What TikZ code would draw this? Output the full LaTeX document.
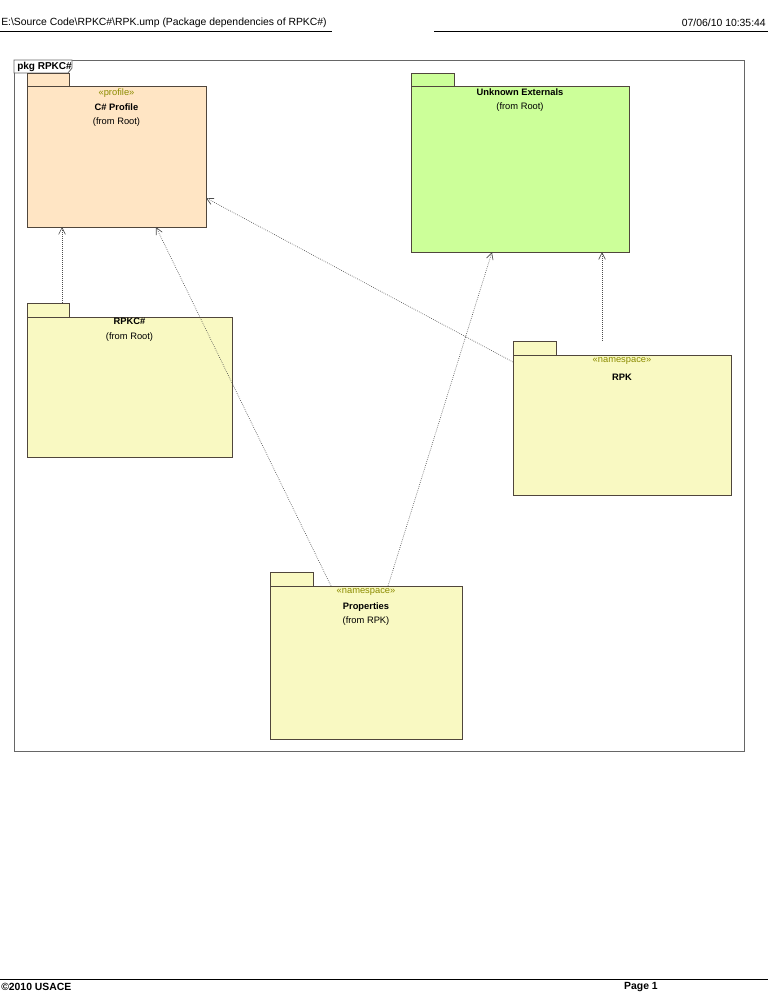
\documentclass[tikz,border=0pt]{standalone}
\usepackage{fontspec}
\setmainfont{Liberation Sans}
\usetikzlibrary{arrows.meta}
\definecolor{peach}{RGB}{255,229,196}
\definecolor{lime}{RGB}{204,255,153}
\definecolor{pale}{RGB}{249,249,194}
\definecolor{stereo}{RGB}{140,140,0}
\definecolor{edge}{RGB}{80,70,60}
\begin{document}
\begin{tikzpicture}[x=0.75pt,y=-0.75pt,
  pk/.style={draw=edge,line width=0.6pt},
  dep/.style={densely dotted,draw=black!70,line width=0.5pt,-{Straight Barb[length=5pt,width=5pt]}},
  lbl/.style={font=\fontsize{7}{11}\selectfont,align=center,inner sep=0pt},
  st/.style={font=\fontsize{7}{8}\selectfont,text=stereo,inner sep=0pt},
  hd/.style={inner sep=0pt,font=\fontsize{7.8}{9}\selectfont}]
\useasboundingbox (0,0) rectangle (768,994);
% header/footer
\node[hd,anchor=west] (h1) at (1,23) {E:\textbackslash Source Code\textbackslash RPKC\#\textbackslash RPK.ump (Package dependencies of RPKC\#)};
\node[hd,anchor=east] (h2) at (766,23) {07/06/10 10:35:44};
\draw[line width=0.6pt] (0,31) -- (332,31) (434,31) -- (768,31);
\draw[line width=0.6pt] (0,979) -- (768,979);
\node[hd,anchor=west,font=\bfseries\fontsize{7.8}{9}\selectfont] (f1) at (1,987) {©2010 USACE};
\node[hd,anchor=east,font=\bfseries\fontsize{7.8}{9}\selectfont] (f2) at (658,987) {Page 1};
% frame
\draw[draw=black!60,line width=0.6pt] (14,60) rectangle (744,751);
\draw[draw=black!60,line width=0.6pt,fill=white] (14,60) -- (72,60) -- (72,68) -- (68,73) -- (14,73) -- cycle;
\node[anchor=west,inner sep=0pt,font=\bfseries\fontsize{7.5}{8}\selectfont] (pkg) at (17,66.5) {pkg RPKC\#};
% packages
\draw[pk,fill=peach] (27,73) rectangle (69,86);
\draw[pk,fill=peach] (27,86) rectangle (206,227);
\node[st] at (116.5,93) {«profile»};
\node[lbl] at (116.5,115) {\textbf{C\# Profile}\\(from Root)};
\draw[pk,fill=lime] (411,73) rectangle (454,86);
\draw[pk,fill=lime] (411,86) rectangle (629,252);
\node[lbl] at (520,100) {\textbf{Unknown Externals}\\(from Root)};
\draw[pk,fill=pale] (27,303) rectangle (69,317);
\draw[pk,fill=pale] (27,317) rectangle (232,457);
\node[lbl] at (129.5,330) {\textbf{RPKC\#}\\(from Root)};
\draw[pk,fill=pale] (513,341) rectangle (556,355);
\draw[pk,fill=pale] (513,355) rectangle (731,495);
\node[st] at (622,361) {«namespace»};
\node[lbl,font=\bfseries\fontsize{7}{8}\selectfont] at (622,377) {RPK};
\draw[pk,fill=pale] (270,572) rectangle (313,586);
\draw[pk,fill=pale] (270,586) rectangle (462,739);
\node[st] at (366,592) {«namespace»};
\node[lbl] at (366,614) {\textbf{Properties}\\(from RPK)};
% coordinates
\coordinate (a1) at (62,303); \coordinate (b1) at (62,227);
\coordinate (a2) at (331,586); \coordinate (b2) at (156,227);
\coordinate (a3) at (388,586); \coordinate (b3) at (492,252);
\coordinate (a4) at (513,362); \coordinate (b4) at (206,198);
\coordinate (a5) at (602,341); \coordinate (b5) at (602,252);
\draw[dep] (a1) -- (b1);
\draw[dep] (a2) -- (b2);
\draw[dep] (a3) -- (b3);
\draw[dep] (a4) -- (b4);
\draw[dep] (a5) -- (b5);
\end{tikzpicture}
\end{document}
